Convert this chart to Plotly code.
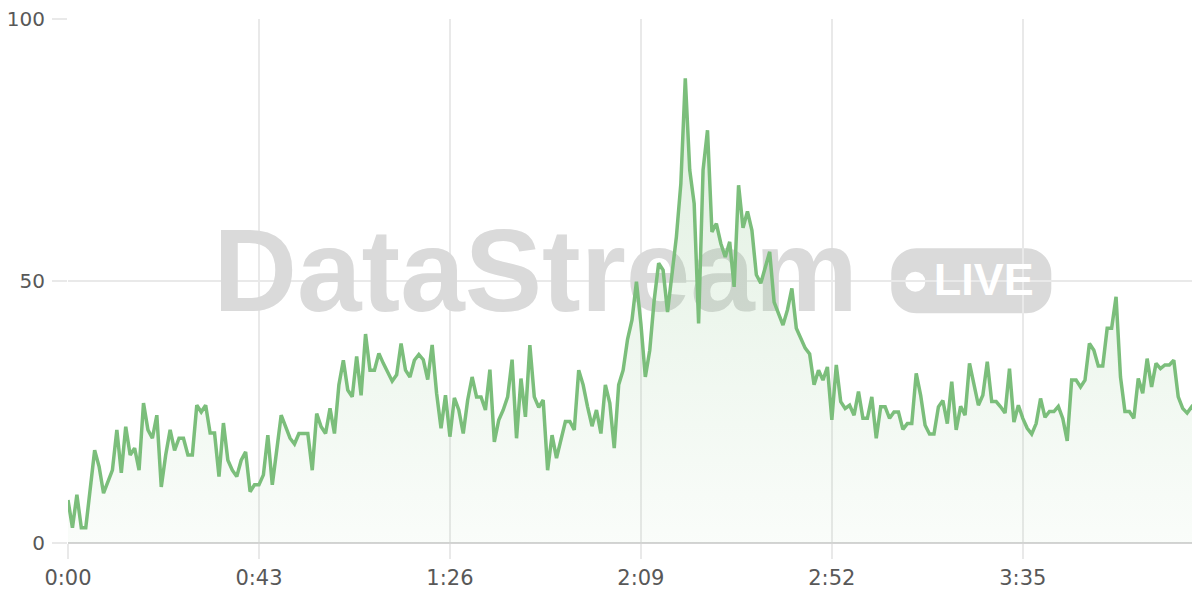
import plotly.graph_objects as go

# seconds since start
seconds = list(range(0, 255))

values = [
    8.2, 2.9, 9.2, 2.9, 2.9, 10.5, 17.7, 14.6, 9.5, 11.7,
    13.9, 21.6, 13.4, 22.2, 16.8, 18.1, 13.9, 26.7, 21.6, 20.0,
    24.4, 10.7, 16.8, 21.6, 17.7, 20.0, 20.0, 16.8, 16.8, 26.3,
    25.0, 26.3, 21.0, 21.0, 12.7, 22.9, 15.8, 13.9, 12.7, 15.8,
    17.4, 9.8, 11.1, 11.1, 13.0, 20.6, 11.1, 17.7, 24.4, 22.2,
    20.0, 18.9, 20.9, 20.9, 20.9, 13.9, 24.7, 22.2, 20.9, 25.7,
    20.9, 30.2, 34.9, 29.2, 27.9, 35.6, 28.2, 39.9, 33.0, 33.0,
    36.2, 34.3, 32.4, 30.9, 32.1, 38.1, 33.0, 31.7, 34.9, 36.0,
    35.0, 31.2, 37.8, 28.6, 21.9, 28.2, 20.3, 27.7, 25.4, 20.9,
    27.3, 31.7, 27.9, 27.9, 25.4, 33.1, 19.3, 23.5, 25.4, 27.9,
    35.0, 20.0, 31.4, 24.1, 37.8, 27.9, 25.9, 27.3, 13.9, 20.6,
    16.2, 19.7, 23.2, 23.2, 21.6, 33.0, 30.2, 26.0, 22.3, 25.4,
    20.9, 30.2, 26.7, 18.1, 30.2, 33.0, 38.9, 42.6, 49.9, 41.9,
    31.7, 36.8, 46.4, 53.4, 52.1, 44.1, 51.5, 58.5, 68.6, 88.7,
    71.2, 64.8, 41.9, 71.2, 78.8, 59.4, 61.0, 57.2, 54.6, 57.5,
    48.9, 68.3, 60.2, 63.3, 59.7, 51.2, 49.6, 52.7, 55.6, 46.0,
    43.8, 41.6, 44.5, 48.6, 41.0, 39.1, 37.2, 36.1, 30.2, 33.0,
    31.1, 33.6, 23.5, 34.0, 27.0, 25.7, 26.3, 24.4, 28.9, 23.8,
    23.8, 27.9, 20.0, 26.0, 26.0, 23.8, 25.0, 25.0, 21.7, 22.8,
    22.8, 32.4, 28.2, 22.5, 20.8, 20.8, 26.0, 27.2, 22.8, 30.8,
    21.6, 26.1, 24.4, 34.3, 30.5, 26.3, 28.2, 34.6, 27.0, 27.0,
    26.0, 24.8, 33.3, 23.1, 26.3, 23.8, 21.9, 20.8, 22.8, 27.6,
    24.0, 25.1, 25.1, 26.1, 23.8, 19.5, 31.1, 31.1, 29.8, 31.1,
    38.1, 36.8, 33.8, 33.8, 41.0, 41.0, 47.0, 31.7, 25.1, 25.1,
    23.8, 31.4, 28.6, 35.2, 29.8, 34.3, 33.3, 34.0, 34.0, 34.9,
    27.9, 25.7, 24.8, 26.0, 24.9,
]

x_tick_vals = [0, 43, 86, 129, 172, 215]
x_tick_text = ["0:00", "0:43", "1:26", "2:09", "2:52", "3:35"]
y_tick_vals = [0, 50, 100]
y_tick_text = ["0", "50", "100"]

watermark_text = "DataStream"
badge_text = "LIVE"

LINE = "rgb(123,190,123)"
WM = "#dadada"

fig = go.Figure()

# watermark (drawn first so it sits beneath the line)
fig.add_trace(go.Scatter(
    x=[105.3], y=[49.9], mode="text", text=[watermark_text],
    textposition="middle center",
    textfont=dict(family="Liberation Sans", size=116, color=WM, weight="bold"),
    hoverinfo="skip", showlegend=False,
))
fig.add_trace(go.Scatter(
    x=[206.2], y=[49.5], mode="text", text=[badge_text],
    textposition="middle center",
    textfont=dict(family="Liberation Sans", size=45, color="white", weight="bold"),
    hoverinfo="skip", showlegend=False,
))

fig.add_trace(go.Scatter(
    x=seconds, y=values, mode="lines",
    line=dict(color=LINE, width=3.5),
    fill="tozeroy",
    fillgradient=dict(
        type="vertical",
        colorscale=[[0, "rgba(123,190,123,0.04)"], [1, "rgba(123,190,123,0.24)"]],
    ),
    hoverinfo="skip", showlegend=False,
))

# LIVE badge (rounded rectangle in pixel units)
w, h, r = 160, 65, 25
k = 0.5523 * r
hw, hh = w / 2, h / 2
path = (
    f"M {-hw + r},{-hh} L {hw - r},{-hh} "
    f"C {hw - r + k},{-hh} {hw},{-hh + r - k} {hw},{-hh + r} "
    f"L {hw},{hh - r} "
    f"C {hw},{hh - r + k} {hw - r + k},{hh} {hw - r},{hh} "
    f"L {-hw + r},{hh} "
    f"C {-hw + r - k},{hh} {-hw},{hh - r + k} {-hw},{hh - r} "
    f"L {-hw},{-hh + r} "
    f"C {-hw},{-hh + r - k} {-hw + r - k},{-hh} {-hw + r},{-hh} Z"
)
fig.add_shape(
    type="path", path=path, xsizemode="pixel", ysizemode="pixel",
    xanchor=203.4, yanchor=50.05, xref="x", yref="y",
    fillcolor=WM, line=dict(width=0), layer="below",
)
fig.add_shape(
    type="circle", xsizemode="pixel", ysizemode="pixel",
    xanchor=190.8, yanchor=49.9, xref="x", yref="y",
    x0=-10, x1=10, y0=-10, y1=10,
    fillcolor="white", line=dict(width=0), layer="below",
)

fig.update_layout(
    width=1192, height=592,
    margin=dict(l=60, r=4, t=11, b=57),
    paper_bgcolor="white", plot_bgcolor="white",
    showlegend=False,
    font=dict(family="DejaVu Sans", size=21, color="#585858"),
)
fig.update_xaxes(
    range=[0, 254], tickvals=x_tick_vals, ticktext=x_tick_text,
    showgrid=True, gridcolor="#e9e9e9", gridwidth=1.5,
    ticks="outside", ticklen=15, tickcolor="#e9e9e9", tickwidth=1.5,
    showline=False, zeroline=False, ticklabelstandoff=1,
    ticklabeloverflow="allow", automargin=False,
)
fig.update_yaxes(
    range=[0, 100.05], tickvals=y_tick_vals, ticktext=y_tick_text,
    showgrid=True, gridcolor="#e9e9e9", gridwidth=1.5,
    ticks="outside", ticklen=15, tickcolor="#e9e9e9", tickwidth=1.5,
    zeroline=True, zerolinecolor="#d4d4d4", zerolinewidth=2,
    showline=False, ticklabelstandoff=3, ticklabeloverflow="allow",
    tickfont=dict(size=20), automargin=False,
)

fig.write_html("out.html")
